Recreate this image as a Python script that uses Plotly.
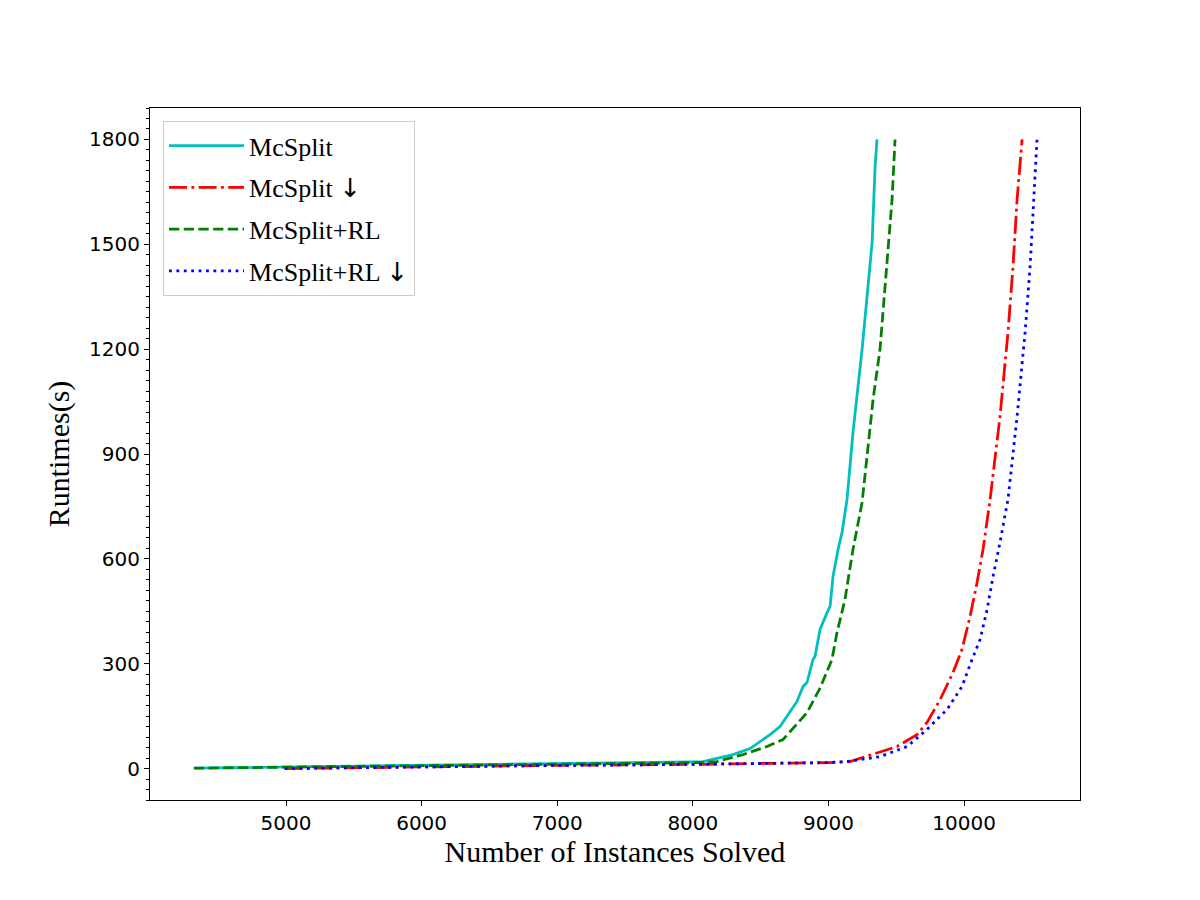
import plotly.graph_objects as go

# McSplit
mcs_x = [4330, 5000, 6000, 7000, 7500, 8000, 8075, 8296, 8422, 8569, 8643, 8695, 8739, 8768, 8813, 8842,
         8886, 8901, 8938, 8975, 8990, 9012, 9034, 9071, 9100, 9137, 9181, 9248, 9285, 9322, 9344, 9358]
mcs_y = [1, 4, 9, 14, 16, 19, 20, 40, 57, 97, 120, 149, 177, 192, 235, 246,
         312, 321, 398, 435, 446, 464, 550, 627, 675, 770, 962, 1199, 1342, 1505, 1723, 1800]

# McSplit ↓
mcsd_x = [4990, 6000, 7000, 8000, 9000, 9159, 9380, 9506, 9653, 9727, 9823, 9919, 9985, 10044,
          10096, 10140, 10192, 10265, 10324, 10361, 10391, 10428]
mcsd_y = [0, 5, 9, 12, 17, 20, 46, 63, 97, 132, 197, 275, 341, 435,
          532, 627, 770, 1007, 1248, 1437, 1628, 1800]

# McSplit+RL
rl_x = [4320, 5000, 6000, 7000, 8000, 8075, 8178, 8370, 8547, 8665, 8842, 8938, 9026, 9063, 9122,
        9181, 9248, 9329, 9380, 9432, 9469, 9491]
rl_y = [1, 4, 9, 13, 16, 17, 20, 40, 63, 83, 160, 230, 312, 389, 484,
        627, 761, 1056, 1199, 1437, 1628, 1800]

# McSplit+RL ↓
rld_x = [4990, 6000, 7000, 8000, 9000, 9137, 9380, 9580, 9727, 9875, 9985, 10059, 10118, 10170,
         10214, 10265, 10324, 10391, 10450, 10487, 10516, 10538]
rld_y = [0, 5, 9, 12, 17, 20, 34, 63, 112, 169, 235, 312, 369, 455,
         550, 647, 770, 1007, 1248, 1437, 1628, 1800]

ARROW = '<span style="font-family:DejaVu Sans">↓</span>'
names = ["McSplit", "McSplit " + ARROW, "McSplit+RL", "McSplit+RL " + ARROW]
y_ticks = [0, 300, 600, 900, 1200, 1500, 1800]
x_ticks = [5000, 6000, 7000, 8000, 9000, 10000]
x_ticktext = ["5000", "6000", "7000", "8000", "9000", "10000"]
y_ticktext = ["0", "300", "600", "900", "1200", "1500", "1800"]

fig = go.Figure()
styles = [
    ("#00bfbf", "solid"),
    ("#ff0000", "18px,4.4px,2.8px,4.4px"),
    ("#008000", "10.3px,4.4px"),
    ("#0000ff", "2.8px,4.6px"),
]
for i, ((xs, ys), name, (col, dash)) in enumerate(zip(
    [(mcs_x, mcs_y), (mcsd_x, mcsd_y), (rl_x, rl_y), (rld_x, rld_y)], names, styles
)):
    fig.add_trace(go.Scatter(x=xs, y=ys, mode="lines", name=name, legendgroup=f"g{i}",
                             line=dict(color=col, width=2.78, dash=dash)))

tickfont = dict(family="DejaVu Sans", size=20, color="black")
fig.update_layout(
    width=1200, height=900,
    paper_bgcolor="white", plot_bgcolor="white",
    margin=dict(l=142, r=128, t=100, b=108),
    showlegend=True,
    legend=dict(x=0.014, y=0.981, xanchor="left", yanchor="top",
                bgcolor="rgba(255,255,255,0.9)", bordercolor="#cccccc", borderwidth=1,
                font=dict(family="Liberation Serif", size=26, color="black"),
                tracegroupgap=5, itemwidth=75),
    xaxis=dict(range=[3997, 10855], tickvals=x_ticks, ticktext=x_ticktext, ticks="outside",
               ticklen=5, tickwidth=1,
               tickcolor="black", tickfont=tickfont, showgrid=False, zeroline=False,
               showline=True, linecolor="black", linewidth=1, mirror=True,
               title=dict(text="Number of Instances Solved", standoff=0,
                          font=dict(family="Liberation Serif", size=30, color="black"))),
    yaxis=dict(range=[-90, 1890], tickvals=y_ticks, ticktext=y_ticktext, ticks="outside",
               ticklen=5, tickwidth=1,
               tickcolor="black", tickfont=tickfont, showgrid=False, zeroline=False,
               showline=True, linecolor="black", linewidth=1, mirror=True,
               minor=dict(dtick=30, tick0=0, ticks="outside", ticklen=3, tickcolor="black", showgrid=False),
               title=dict(text="Runtimes(s)", standoff=10,
                          font=dict(family="Liberation Serif", size=30, color="black"))),
)
fig.write_html("out.html")
